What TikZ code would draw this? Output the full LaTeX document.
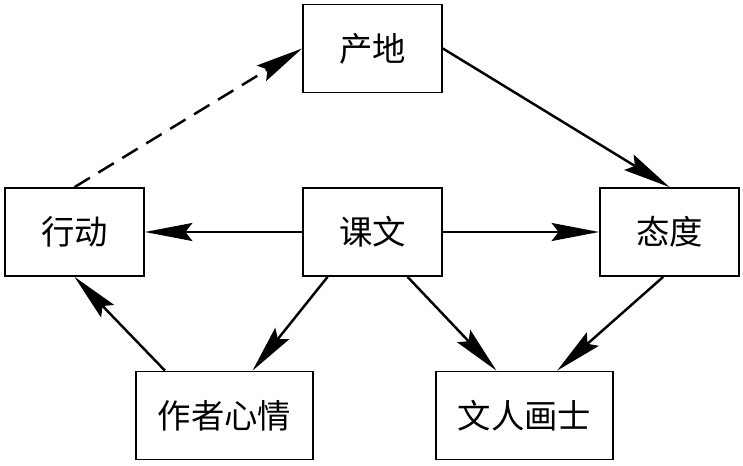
\documentclass[tikz,border=0pt]{standalone}
\usepackage{fontspec}
\newfontfamily\cjk{Noto Sans CJK SC}
\usepackage{tikz}
\usetikzlibrary{arrows.meta, positioning}

\begin{document}
\begin{tikzpicture}[
    box/.style={draw, line width=1pt, minimum width=2.78cm, minimum height=1.76cm, font=\cjk\fontsize{19}{22}\selectfont},
    widebox/.style={box, minimum width=3.54cm},
    link/.style={line width=1.4pt, -{Stealth[length=0.95cm, width=0.36cm, inset=0.14cm]}}
  ]
  % Frame of the picture
  \useasboundingbox (0,0) rectangle (14.86,9.32);

  % Boxes
  \node[box] (chandi) at (7.45,8.35) {产地};
  \node[box] (xingdong) at (1.49,4.68) {行动};
  \node[box] (kewen) at (7.45,4.68) {课文};
  \node[box] (taidu) at (13.39,4.68) {态度};
  \node[widebox] (zuozhe) at (4.49,1.01) {作者心情};
  \node[widebox] (wenren) at (10.49,1.01) {文人画士};

  % Top: dashed way up, solid way down
  \draw[link, dash pattern=on 0.36cm off 0.2cm] (xingdong.north) -- (chandi.west);
  \draw[link] (chandi.east) -- (taidu.north);

  % Middle row
  \draw[link] (kewen.west) -- (xingdong.east);
  \draw[link] (kewen.east) -- (taidu.west);

  % Lower arrows
  \draw[link] (kewen.-135) -- (zuozhe.58);
  \draw[link] (kewen.-52) -- (wenren.122);
  \draw[link] (taidu.-98) -- (wenren.54);
  \draw[link] (zuozhe.143) -- (xingdong.south);
\end{tikzpicture}
\end{document}
